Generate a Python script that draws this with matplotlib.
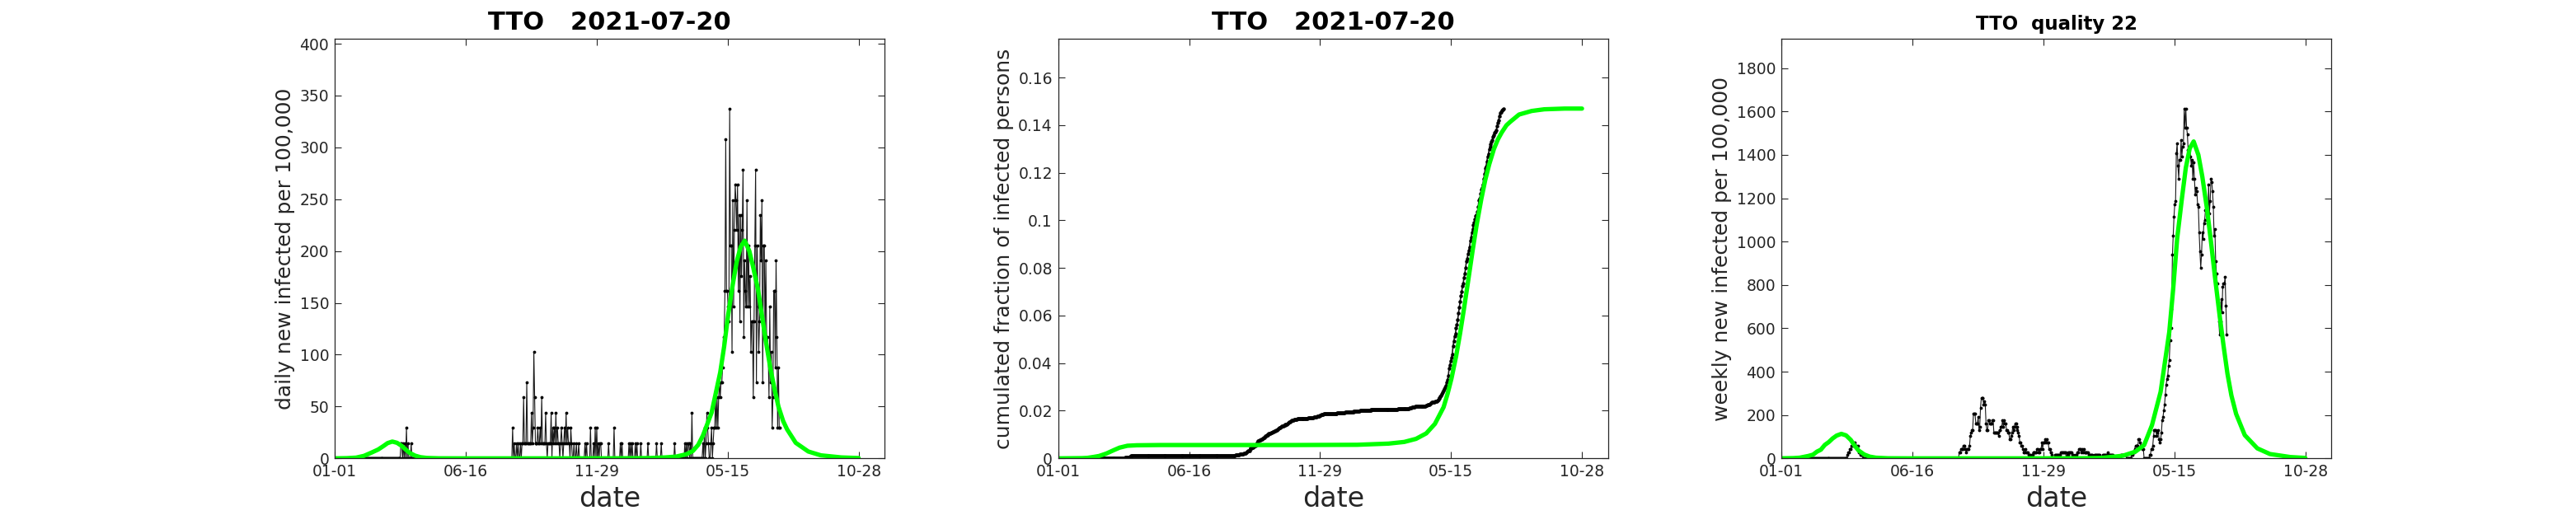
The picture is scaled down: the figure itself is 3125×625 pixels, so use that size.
import numpy as np
import pandas as pd
import matplotlib
matplotlib.use("Agg")
import matplotlib.pyplot as plt

# ---- data (days counted from 2020-01-01, last report 2021-07-20 = day 566) ----
n_days = 567
case_unit = 14.67  # one reported case, per 100,000

# isolated reports before the big wave (day, cases)
sparse_days = [84, 85, 87, 89, 91, 93, 97,
               226, 228, 231, 233, 236, 238, 239, 240, 241, 242, 243, 244, 245, 246,
               247, 248, 249, 250, 251, 252, 253, 254, 255, 256, 257, 258, 259, 260,
               261, 262, 263, 264, 265, 266, 267, 268, 269, 271, 272, 273, 274, 275,
               277, 278, 279, 280, 281, 282, 283, 284, 285, 287, 288, 289, 291, 292,
               293, 294, 295, 296, 297, 298, 300,
               301, 304, 307, 310, 318, 320, 325, 329, 331, 333, 335,
               337, 338, 348, 355, 363, 365, 374, 376, 378, 382, 384, 389,
               398, 409, 415, 432, 445, 447, 449, 450, 452, 454, 468, 470, 472, 473,
               474, 475]
sparse_counts = [1, 1, 1, 1, 2, 1, 1,
                 2, 1, 1, 1, 1, 1, 1, 4, 1, 1, 1, 5, 1, 1,
                 1, 1, 1, 3, 1, 2, 7, 4, 1, 1, 1, 2, 1, 1,
                 2, 1, 4, 1, 1, 1, 1, 3, 1, 1, 1, 1, 1, 3,
                 2, 1, 2, 1, 3, 1, 2, 1, 1, 1, 2, 1, 1, 2,
                 1, 3, 1, 2, 1, 1, 2,
                 1, 1, 1, 1, 1, 1, 2, 1, 2, 2, 1,
                 1, 1, 1, 2, 1, 1, 1, 1, 1, 1, 1, 1,
                 1, 1, 1, 1, 1, 1, 1, 1, 1, 3, 1, 2, 1, 3,
                 2, 1]

# continuous reports from day 478 to day 566
wave_start = 478
wave_counts = [1, 2, 0, 1, 2, 2, 4, 2, 4, 2, 4, 5, 4, 5, 5, 6, 8,
               8, 11, 21, 11, 11, 10, 9, 23, 14, 14,
               7, 17, 10, 15, 18, 17, 15, 18, 11, 16,
               9, 16, 12, 15, 19, 8, 13, 11, 10, 17,
               10, 14, 10, 12, 7, 9, 9, 4, 9, 14,
               19, 5, 14, 10, 7, 9, 16, 13, 17, 5,
               14, 14, 8, 13, 8, 8, 7, 4, 10, 5,
               7, 2, 4, 11, 11, 6, 13, 8, 2, 6,
               2, 2]

# fitted model (green)
model_days_daily = [0, 15, 27, 37, 47, 55, 62, 67, 73, 79, 85, 90, 95, 102, 109, 117,
                    132, 160, 250, 350, 380, 400, 420, 434, 447, 455, 462, 468, 479,
                    490, 495, 500, 506, 511, 516, 521, 527, 532, 538, 543, 548, 554,
                    559, 564, 570, 575, 586, 602, 618, 644, 666]
model_daily = [0.02, 0.2, 0.7, 2.4, 5.7, 8.5, 12, 14.7, 16.2, 15, 12, 8.5, 5.3, 2.6,
               1.1, 0.4, 0.07, 0.02, 0.01, 0.05, 0.15, 0.3, 0.9, 1.7, 4, 7, 13, 22,
               44, 83, 108, 138, 168, 190, 204, 210, 200, 184, 163, 138, 113, 86, 67,
               50, 36, 28, 15, 6.6, 2.9, 0.9, 0.3]

model_days_cum = [0, 30, 37, 45, 52, 61, 71, 78, 88, 100, 130, 300, 380, 420, 440,
                  455, 468, 479, 490, 495, 500, 506, 511, 516, 521, 527, 532, 538,
                  543, 548, 554, 559, 564, 570, 575, 586, 602, 618, 644, 666]
model_cum = [0, 0.0001, 0.0002, 0.0006, 0.001, 0.002, 0.0035, 0.0045, 0.0053, 0.0055,
             0.0056, 0.0056, 0.0057, 0.0062, 0.0069, 0.0082, 0.0105, 0.0145, 0.0215,
             0.027, 0.0335, 0.043, 0.0525, 0.063, 0.074, 0.0875, 0.098, 0.109, 0.117,
             0.1235, 0.130, 0.134, 0.137, 0.140, 0.1415, 0.1445, 0.146, 0.1467, 0.147,
             0.147]

model_days_week = [0, 15, 23, 34, 40, 45, 50, 55, 60, 65, 70, 76, 82, 88, 93, 98, 105,
                   112, 120, 135, 160, 300, 380, 407, 434, 450, 461, 471, 482, 493, 498,
                   503, 509, 514, 519, 524, 530, 535, 541, 546, 551, 557, 562, 567, 572,
                   578, 589, 605, 621, 647, 666]
model_week = [0.2, 1.2, 3, 11, 17, 31, 40, 62, 75, 92, 105, 113, 106, 85, 58, 36, 18,
              8, 3, 0.5, 0.1, 0.05, 0.5, 2, 12, 31, 61, 153, 307, 583, 783, 1013, 1197,
              1340, 1430, 1462, 1400, 1300, 1150, 1000, 840, 660, 520, 390, 290, 205,
              107, 46, 20, 6, 2]

tick_days = [0, 166.5, 333, 499.5, 666]
tick_labels = ['01-01', '06-16', '11-29', '05-15', '10-28']

# ---- derived series ----
days = np.arange(n_days)
counts = np.zeros(n_days)
counts[sparse_days] = sparse_counts
counts[wave_start:wave_start + len(wave_counts)] = wave_counts
daily = counts * case_unit
weekly = pd.Series(daily).rolling(7, min_periods=1).sum().values
cumulated = np.cumsum(daily) / 1e5

green = (0, 1, 0)
grey = '#262626'
plt.rcParams['font.family'] = 'DejaVu Sans'

fig = plt.figure(figsize=(31.25, 6.25), dpi=100)
lefts = [0.13, 0.4108, 0.6916]
axes = [fig.add_axes([l, 0.11, 0.2134, 0.815]) for l in lefts]

panels = [
    (days, daily, 0.8, 3.5, model_days_daily, model_daily,
     'daily new infected per 100,000', 'TTO   2021-07-20', 22),
    (days, cumulated, 1.2, 4.5, model_days_cum, model_cum,
     'cumulated fraction of infected persons', 'TTO   2021-07-20', 22),
    (days, weekly, 0.8, 3.5, model_days_week, model_week,
     'weekly new infected per 100,000', 'TTO  quality 22', 16.5),
]

for ax, (x, y, lw, ms, mx, my, ylab, title, tsize) in zip(axes, panels):
    ax.plot(x, y, '-', color='0.1', lw=lw, marker='.', ms=ms, mfc='k', mec='k')
    ax.plot(mx, my, '-', color=green, lw=3.8, solid_capstyle='round')
    ax.set_xlim(0, 699)
    ax.set_ylim(0, 1.2 * max(np.max(y), max(my)))
    ax.set_xticks(tick_days)
    ax.set_xticklabels(tick_labels)
    ax.tick_params(direction='in', top=True, right=True, length=6, width=0.8,
                   labelsize=13.5, colors=grey, pad=5)
    for s in ax.spines.values():
        s.set_color(grey)
        s.set_linewidth(0.9)
    ax.set_xlabel('date', fontsize=24, color=grey, labelpad=5)
    ax.set_ylabel(ylab, fontsize=18, color=grey, labelpad=4)
    ax.set_title(title, fontsize=tsize, fontweight='bold', pad=8)

axes[0].set_yticks(np.arange(0, 401, 50))
axes[1].set_yticks(np.arange(0, 0.161, 0.02))
axes[1].set_yticklabels(['%g' % round(v, 2) for v in np.arange(0, 0.161, 0.02)])
axes[2].set_yticks(np.arange(0, 1801, 200))

fig.savefig('out.png', dpi=100, facecolor='white')
